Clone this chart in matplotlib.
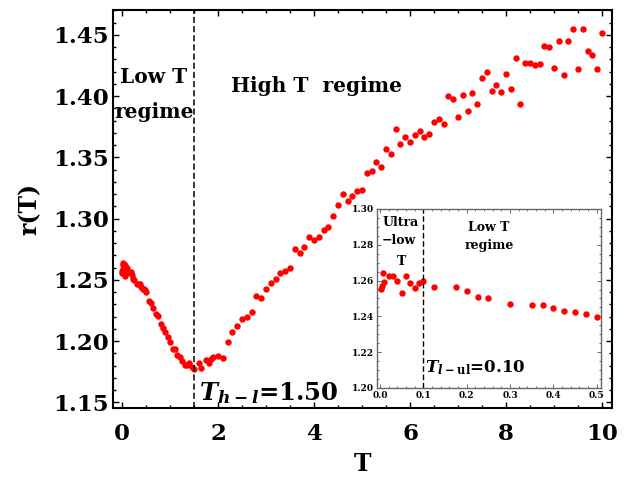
import numpy as np
import matplotlib
matplotlib.use('Agg')
import matplotlib.pyplot as plt
from matplotlib.ticker import MultipleLocator, FormatStrFormatter

plt.rcParams['font.family'] = ['DejaVu Serif']
plt.rcParams['font.weight'] = 'bold'
plt.rcParams['mathtext.fontset'] = 'dejavuserif'

# ultra-low / low T points (also shown in the inset)
inset_T = [0.002, 0.004, 0.008, 0.01, 0.02, 0.03, 0.04, 0.05, 0.06, 0.07,
           0.08, 0.09, 0.1, 0.125, 0.175, 0.2, 0.225, 0.25, 0.3, 0.35,
           0.375, 0.4, 0.425, 0.45, 0.475, 0.5]
inset_r = [1.2553, 1.2570, 1.2640, 1.2591, 1.2624, 1.2624, 1.2600, 1.2532, 1.2624, 1.2586,
           1.2561, 1.2586, 1.2599, 1.2566, 1.2563, 1.2543, 1.2511, 1.2502, 1.2471, 1.2466,
           1.2464, 1.2446, 1.2428, 1.2427, 1.2416, 1.2398]

# low T regime, 0.5 < T <= 1.5
low_T = [0.55, 0.6, 0.65, 0.7, 0.75, 0.8, 0.85, 0.9, 0.95, 1.0,
         1.05, 1.1, 1.15, 1.2, 1.25, 1.3, 1.35, 1.4, 1.45, 1.5]
low_r = [1.2329, 1.2310, 1.2274, 1.2220, 1.2209, 1.2138, 1.2106, 1.2073, 1.2037, 1.1991,
         1.1937, 1.1937, 1.1888, 1.1874, 1.1839, 1.1806, 1.1806, 1.1820, 1.1792, 1.1771]

# high T regime
high_T = [1.6, 1.65, 1.75, 1.8, 1.85, 1.9, 2.0, 2.1, 2.2, 2.3,
          2.4, 2.5, 2.6, 2.7, 2.8, 2.9, 3.0, 3.1, 3.2, 3.3,
          3.4, 3.5, 3.6, 3.7, 3.8, 3.9, 4.0, 4.1, 4.2, 4.3,
          4.4, 4.5, 4.6, 4.7, 4.8, 4.9, 5.0, 5.1, 5.2, 5.3,
          5.4, 5.5, 5.6, 5.7, 5.8, 5.9, 6.0, 6.1, 6.2, 6.3,
          6.4, 6.5, 6.6, 6.7, 6.8, 6.9, 7.0, 7.1, 7.2, 7.3,
          7.4, 7.5, 7.6, 7.7, 7.8, 7.9, 8.0, 8.1, 8.2, 8.3,
          8.4, 8.5, 8.6, 8.7, 8.8, 8.9, 9.0, 9.1, 9.2, 9.3,
          9.4, 9.5, 9.6, 9.7, 9.8, 9.9, 10.0]
high_r = [1.1820, 1.1784, 1.1847, 1.1820, 1.1855, 1.1874, 1.1880, 1.1861, 1.1996, 1.2078,
          1.2124, 1.2179, 1.2201, 1.2241, 1.2372, 1.2350, 1.2427, 1.2473, 1.2506, 1.2555,
          1.2576, 1.2600, 1.2753, 1.2720, 1.2770, 1.2851, 1.2827, 1.2851, 1.2910, 1.2935,
          1.3025, 1.3112, 1.3200, 1.3145, 1.3186, 1.3227, 1.3232, 1.3376, 1.3387, 1.3466,
          1.3422, 1.3572, 1.3531, 1.3733, 1.3610, 1.3665, 1.3629, 1.3684, 1.3719, 1.3667,
          1.3689, 1.3790, 1.3812, 1.3773, 1.3999, 1.3975, 1.3828, 1.4008, 1.3877, 1.4029,
          1.3937, 1.4149, 1.4196, 1.4045, 1.4092, 1.4037, 1.4184, 1.4062, 1.4315, 1.3934,
          1.4274, 1.4271, 1.4255, 1.4266, 1.4408, 1.4404, 1.4233, 1.4451, 1.4173, 1.4449,
          1.4547, 1.4222, 1.4547, 1.4367, 1.4337, 1.4225, 1.4516]

T_hl = 1.5
T_lul = 0.1

main_T = inset_T + low_T + high_T
main_r = inset_r + low_r + high_r

fig = plt.figure(figsize=(6.28, 4.83), dpi=100)

# main panel
ax = fig.add_axes([0.18, 0.1553, 0.7945, 0.824])
ax.plot(main_T, main_r, 'o', color='#ff0000', ms=4.6, mec='none')
ax.axvline(T_hl, color='k', lw=1.1, ls=(0, (4, 2)))
ax.set_xlim(-0.19, 10.21)
ax.set_ylim(1.1455, 1.4704)
ax.xaxis.set_major_locator(MultipleLocator(2))
ax.xaxis.set_minor_locator(MultipleLocator(0.5))
ax.yaxis.set_major_locator(MultipleLocator(0.05))
ax.yaxis.set_minor_locator(MultipleLocator(0.01))
ax.yaxis.set_major_formatter(FormatStrFormatter('%.2f'))
ax.tick_params(which='both', direction='in', top=True, right=True, width=1.0)
ax.tick_params(which='major', length=4.5, labelsize=16.5)
ax.tick_params(which='minor', length=2.5)
ax.tick_params(axis='x', pad=11)
ax.tick_params(axis='y', pad=3)
for sp in ax.spines.values():
    sp.set_linewidth(1.5)
ax.set_xlabel('T', fontsize=17, fontweight='bold', labelpad=5)
ax.set_ylabel('r(T)', fontsize=17, fontweight='bold', labelpad=8)

ax.text(0.66, 1.4108, 'Low T', fontsize=14.5, ha='center', va='baseline')
ax.text(0.66, 1.3822, 'regime', fontsize=14.5, ha='center', va='baseline')
ax.text(4.06, 1.4035, 'High T  regime', fontsize=14.5, ha='center', va='baseline')
ax.text(1.60, 1.152, r'$\mathbfit{T}_{\mathbfit{h-l}}$=1.50', fontsize=17.5,
        ha='left', va='baseline')

# inset
axi = fig.add_axes([0.6003, 0.1967, 0.3567, 0.3706])
axi.plot(inset_T, inset_r, 'o', color='#ff0000', ms=4.6, mec='none')
axi.axvline(T_lul, color='k', lw=1.0, ls=(0, (4, 2)))
axi.set_xlim(-0.007, 0.51)
axi.set_ylim(1.20, 1.30)
axi.xaxis.set_major_locator(MultipleLocator(0.1))
axi.xaxis.set_minor_locator(MultipleLocator(0.02))
axi.yaxis.set_major_locator(MultipleLocator(0.02))
axi.yaxis.set_minor_locator(MultipleLocator(0.005))
axi.xaxis.set_major_formatter(FormatStrFormatter('%.1f'))
axi.yaxis.set_major_formatter(FormatStrFormatter('%.2f'))
axi.tick_params(which='both', direction='in', top=True, right=True, width=0.7,
                colors='#666666', labelcolor='k')
axi.tick_params(which='major', length=3, labelsize=6.5, pad=2)
axi.tick_params(which='minor', length=1.5)
for sp in axi.spines.values():
    sp.set_linewidth(1.0)
    sp.set_color('#666666')

axi.text(0.047, 1.2905, 'Ultra', fontsize=9, ha='center', va='baseline')
axi.text(0.044, 1.2806, '\u2212low', fontsize=9, ha='center', va='baseline')
axi.text(0.05, 1.2685, 'T', fontsize=9, ha='center', va='baseline')
axi.text(0.25, 1.2878, 'Low T', fontsize=9, ha='center', va='baseline')
axi.text(0.253, 1.2775, 'regime', fontsize=9, ha='center', va='baseline')
axi.text(0.104, 1.209, r'$\mathbfit{T}_{\mathbfit{l-}\mathbf{ul}}$=0.10', fontsize=12,
         ha='left', va='baseline')

fig.savefig('out.png', dpi=100)
plt.close()
